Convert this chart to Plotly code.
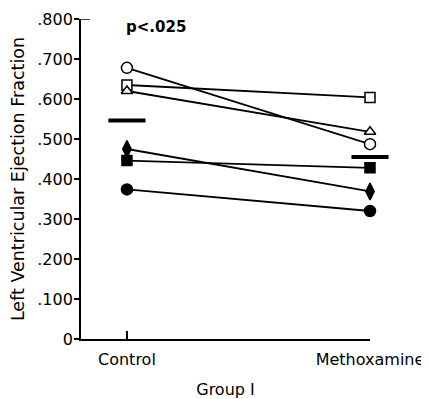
import plotly.graph_objects as go

groups = ["Control", "Methoxamine"]
group_x = [0, 1]

open_circle = [0.678, 0.487]
open_square = [0.635, 0.604]
open_triangle = [0.620, 0.518]
filled_diamond = [0.475, 0.369]
filled_square = [0.446, 0.428]
filled_circle = [0.374, 0.320]
means = [0.546, 0.455]

y_tickvals = [0, 0.1, 0.2, 0.3, 0.4, 0.5, 0.6, 0.7, 0.8]
y_ticktext = ["0", ".100", ".200", ".300", ".400", ".500", ".600", ".700", ".800"]

series = [
    (open_circle, "circle", "white", 11),
    (open_square, "square", "white", 10),
    (open_triangle, "triangle-up", "white", 10),
    (filled_diamond, "diamond-tall", "black", 12),
    (filled_square, "square", "black", 10),
    (filled_circle, "circle", "black", 11),
]

fig = go.Figure()
for vals, sym, fill, sz in series:
    fig.add_trace(go.Scatter(
        x=group_x, y=vals, mode="lines+markers",
        line=dict(color="black", width=1.8),
        marker=dict(symbol=sym, size=sz, color=fill,
                    line=dict(color="black", width=1.5)),
        cliponaxis=False, showlegend=False,
    ))

fig.add_trace(go.Scatter(
    x=group_x, y=means, mode="markers",
    marker=dict(symbol="line-ew", size=26.5, color="black",
                line=dict(color="black", width=4)),
    cliponaxis=False, showlegend=False,
))

fig.add_annotation(x=0.119, y=0.779, xref="x", yref="y", text="<b>p&lt;.025</b>",
                   showarrow=False, font=dict(family="DejaVu Sans", size=15, color="black"))

# small inward tick at the top of the y axis
fig.add_shape(type="line", xref="paper", yref="y", x0=0, x1=0.031, y0=0.8, y1=0.8,
              line=dict(color="black", width=1.5))

fig.update_layout(
    template="none",
    width=421, height=391,
    margin=dict(l=73, r=59, t=11, b=60),
    paper_bgcolor="white", plot_bgcolor="white",
    font=dict(family="DejaVu Sans", color="black"),
    xaxis=dict(range=[-0.189, 1], tickvals=group_x, ticktext=groups,
               automargin=False,
               showline=True, linecolor="black", linewidth=1.8,
               ticks="inside", ticklen=8, tickwidth=1.5, tickcolor="black",
               ticklabelstandoff=5,
               showgrid=False, zeroline=False,
               tickfont=dict(size=16),
               title=dict(text="Group I", font=dict(size=16), standoff=20)),
    yaxis=dict(range=[0, 0.8], tickvals=y_tickvals, ticktext=y_ticktext,
               automargin=False,
               showline=True, linecolor="black", linewidth=1.8,
               ticks="outside", ticklen=5, tickwidth=1.5, tickcolor="black",
               ticklabelstandoff=-2,
               showgrid=False, zeroline=False,
               tickfont=dict(size=16),
               title=dict(text="Left Ventricular Ejection Fraction", font=dict(size=17.5), standoff=10)),
)

fig.write_html("out.html")
